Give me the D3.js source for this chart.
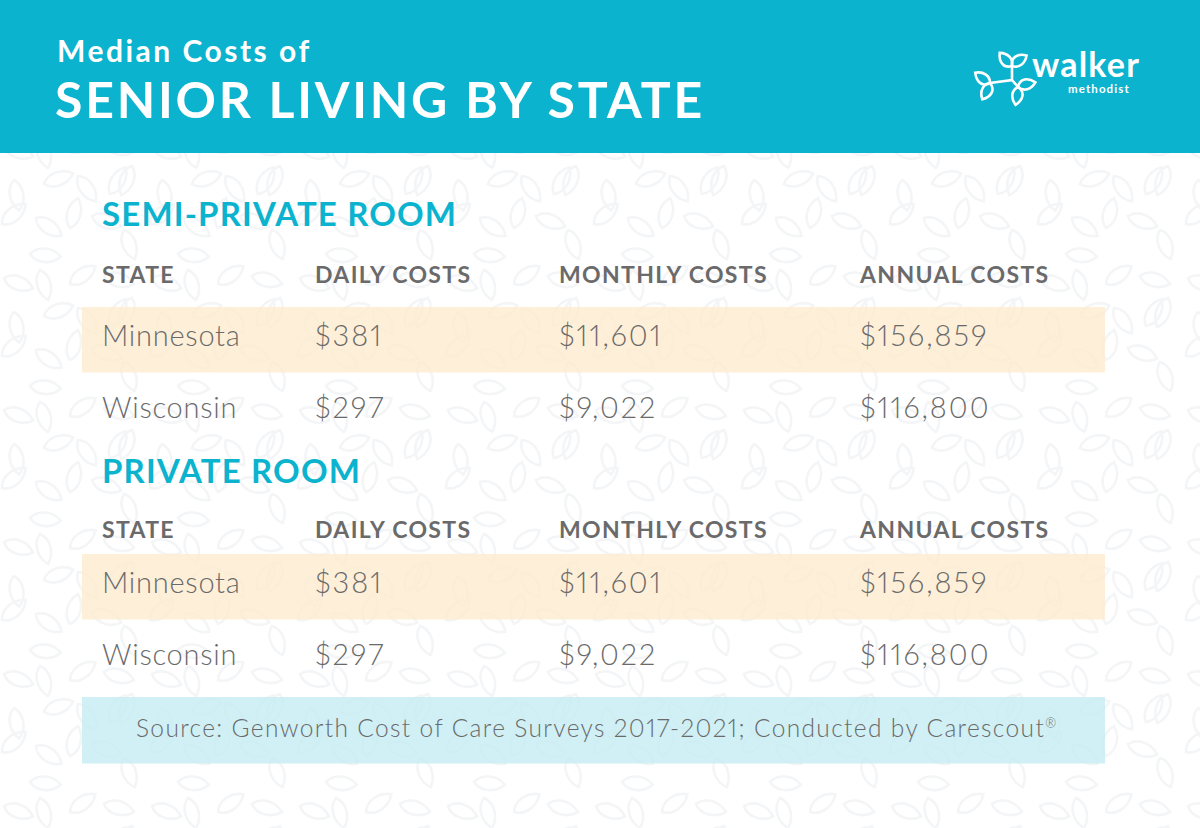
<!DOCTYPE html>
<html>
<head>
<meta charset="utf-8">
<script src="https://cdn.jsdelivr.net/npm/d3@7"></script>
<style>
  html, body { margin: 0; padding: 0; background: #fff; }
  svg { display: block; font-family: Lato, "Open Sans", sans-serif; font-variant-numeric: proportional-nums; }
</style>
</head>
<body>
<svg id="chart" width="1200" height="828"></svg>
<script>
// ==========================
// DATA
// ==========================
const titleSmall = "Median Costs of";
const titleLarge = "SENIOR LIVING BY STATE";
const columns = ["STATE", "DAILY COSTS", "MONTHLY COSTS", "ANNUAL COSTS"];
const sections = ["SEMI-PRIVATE ROOM", "PRIVATE ROOM"];
const states = ["Minnesota", "Wisconsin"];
const semiPrivateRows = [
    ["Minnesota", "$381", "$11,601", "$156,859"],
    ["Wisconsin", "$297", "$9,022", "$116,800"]
];
const privateRows = [
    ["Minnesota", "$381", "$11,601", "$156,859"],
    ["Wisconsin", "$297", "$9,022", "$116,800"]
];
const sourceNote = "Source: Genworth Cost of Care Surveys 2017-2021; Conducted by Carescout";
const sourceMark = "®";

// ==========================
// SETUP
// ==========================
const svg = d3.select("#chart");
const teal = "#0bb3ce";
const grey = "#6a6a6b";

const xCol = d3.scaleOrdinal().domain(columns).range([102, 315, 559, 860]);
const ySection = d3.scaleOrdinal().domain(sections).range([226, 483]);
const yHeader = d3.scaleOrdinal().domain(sections).range([283, 538]);
const yRow = {
    [sections[0]]: d3.scaleOrdinal().domain(states).range([346, 418]),
    [sections[1]]: d3.scaleOrdinal().domain(states).range([593, 665])
};
const yBand = d3.scaleOrdinal().domain(sections).range([307, 554]);

// Leaf wallpaper
const defs = svg.append("defs");
const pattern = defs.append("pattern")
    .attr("id", "leaves")
    .attr("patternUnits", "userSpaceOnUse")
    .attr("width", 148)
    .attr("height", 132);

const leaf = "M0,0 C7,-9 22,-9 31,0 C22,9 7,9 0,0 Z";
const tile = [
    [4, 14, 20], [40, 6, 75], [70, 20, -35], [104, 12, 15], [132, 34, 110],
    [14, 48, 80], [44, 52, -20], [78, 44, 55], [110, 62, -60],
    [2, 92, -40], [36, 86, 35], [70, 96, -75], [92, 84, 20], [124, 98, 70], [30, 122, 5]
];
pattern.selectAll("path")
    .data(tile)
    .enter()
    .append("path")
    .attr("d", leaf)
    .attr("transform", d => `translate(${d[0]},${d[1]}) rotate(${d[2]})`)
    .attr("fill", "none")
    .attr("stroke", "#f4f5f7")
    .attr("stroke-width", 2.6);

svg.append("rect").attr("width", 1200).attr("height", 828).attr("fill", "#fff");
svg.append("rect").attr("width", 1200).attr("height", 828).attr("fill", "url(#leaves)");

// Header
svg.append("rect").attr("width", 1200).attr("height", 153).attr("fill", teal);
svg.append("text").text(titleSmall)
    .attr("x", 57).attr("y", 62)
    .attr("fill", "#fff").attr("font-size", 30).attr("font-weight", 700)
    .attr("letter-spacing", 2.5);
svg.append("text").text(titleLarge)
    .attr("x", 55).attr("y", 118)
    .attr("fill", "#fff").attr("font-size", 50).attr("font-weight", 700)
    .attr("letter-spacing", 2.75);

// Logo
const logo = svg.append("g").attr("fill", "none").attr("stroke", "#fff");
logo.append("path")
    .attr("d", "M990,83 L1012,80 L1012,66 M1012,80 L1018,87")
    .attr("stroke-width", 2.6);
const logoLeaf = "M0,0 C4,-8 12,-7 18,0 C12,6 4,6 0,0 Z";
const logoLeaves = [
    [1012, 66, -133], [1012, 66, -36], [990, 83, -145], [990, 83, 115], [1018, 87, -15], [1018, 87, 98]
];
logo.selectAll(".logo-leaf")
    .data(logoLeaves)
    .enter()
    .append("path")
    .attr("class", "logo-leaf")
    .attr("d", logoLeaf)
    .attr("transform", d => `translate(${d[0]},${d[1]}) rotate(${d[2]})`)
    .attr("stroke-width", 2.6);
svg.append("text").text("walker")
    .attr("x", 1032).attr("y", 77)
    .attr("fill", "#fff").attr("font-size", 34).attr("font-weight", 700)
    .attr("letter-spacing", 1.2);
svg.append("text").text("methodist")
    .attr("x", 1068).attr("y", 93)
    .attr("fill", "#fff").attr("font-size", 11.5).attr("font-weight", 700)
    .attr("letter-spacing", 1.1);

// Tables
function drawTable(section, rows) {
    const g = svg.append("g").attr("class", "table");

    g.append("rect")
        .attr("x", 82).attr("y", yBand(section))
        .attr("width", 1023).attr("height", 65.5)
        .attr("fill", "#fdeacb").attr("opacity", 0.75);

    g.append("text").text(section)
        .attr("x", xCol(columns[0])).attr("y", ySection(section))
        .attr("fill", teal).attr("font-size", 33).attr("font-weight", 700)
        .attr("letter-spacing", 1.15);

    g.selectAll(".col-head")
        .data(columns)
        .enter()
        .append("text")
        .attr("class", "col-head")
        .text(d => d)
        .attr("x", d => xCol(d))
        .attr("y", yHeader(section))
        .attr("fill", grey).attr("font-size", 23).attr("font-weight", 700)
        .attr("letter-spacing", 1.35);

    rows.forEach(row => {
        g.selectAll(null)
            .data(row)
            .enter()
            .append("text")
            .text(d => d)
            .attr("x", (d, i) => xCol(columns[i]))
            .attr("y", yRow[section](row[0]))
            .attr("fill", grey).attr("font-size", 29).attr("font-weight", 300)
            .attr("letter-spacing", (d, i) => i === 0 ? 0.75 : 2);
    });
}
drawTable(sections[0], semiPrivateRows);
drawTable(sections[1], privateRows);

// Source box
svg.append("rect")
    .attr("x", 82).attr("y", 697)
    .attr("width", 1023).attr("height", 66.5)
    .attr("fill", "#c4ecf2").attr("opacity", 0.8);
const source = svg.append("text")
    .attr("x", 136).attr("y", 737)
    .attr("fill", grey).attr("font-size", 24.5).attr("font-weight", 300)
    .attr("letter-spacing", 1.36);
source.append("tspan").text(sourceNote);
source.append("tspan").text(sourceMark)
    .attr("font-size", 13).attr("dy", -9);
</script>
</body>
</html>
